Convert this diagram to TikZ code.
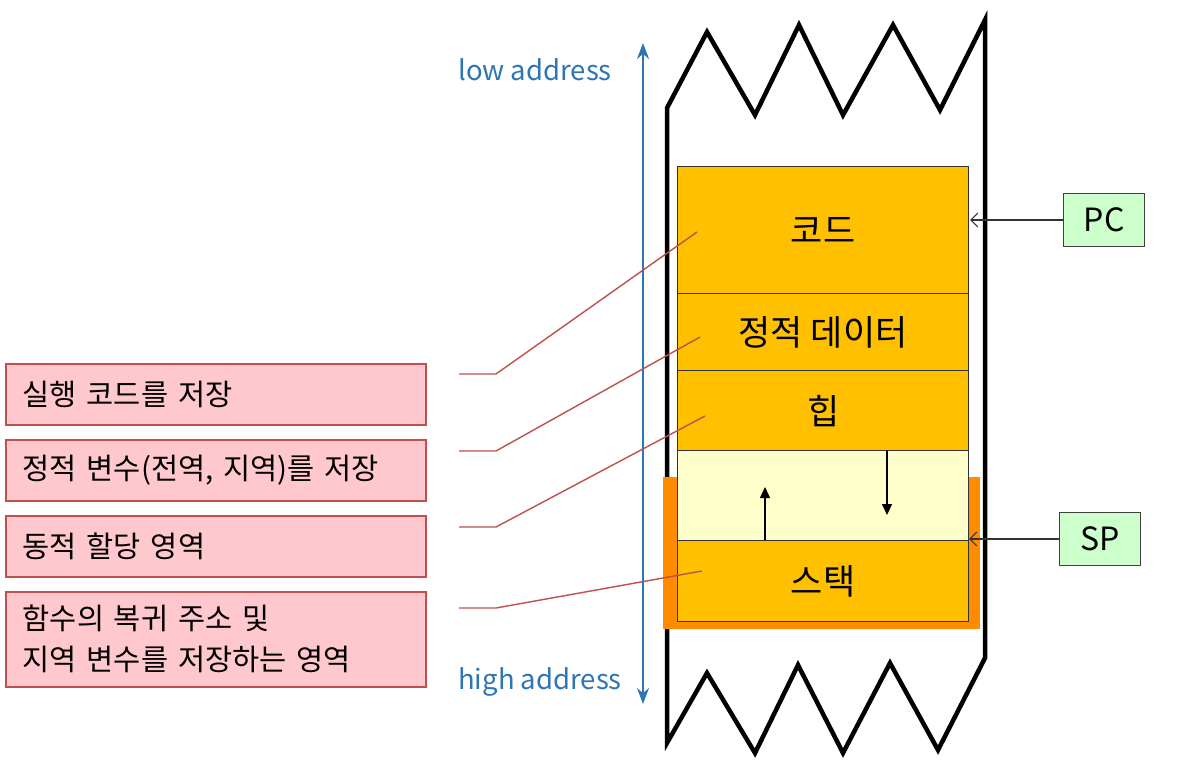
\documentclass[tikz,border=0pt]{standalone}
\usepackage{fontspec}
\setmainfont{Noto Sans CJK KR}
\usetikzlibrary{arrows.meta}
\definecolor{gold}{RGB}{255,192,0}
\definecolor{freey}{RGB}{255,255,204}
\definecolor{orng}{RGB}{255,140,0}
\definecolor{pinkf}{RGB}{255,199,206}
\definecolor{pinkd}{RGB}{192,80,77}
\definecolor{greenf}{RGB}{204,255,204}
\definecolor{addrblue}{RGB}{46,117,182}
\tikzset{
  x=1pt,y=-1pt,
  blockbox/.style={draw=black!80,line width=1.2pt,fill=gold,inner sep=0pt,minimum width=291pt,anchor=north west,font=\fontsize{35}{38}\selectfont},
  notebox/.style={draw=pinkd,line width=1.5pt,fill=pinkf,inner xsep=17pt,inner ysep=0pt,text width=386pt,align=left,anchor=north west,font=\fontsize{29.5}{41}\selectfont},
  regbox/.style={draw=black!75,line width=1.3pt,fill=greenf,inner sep=0pt,minimum width=81pt,minimum height=53pt,anchor=north west,font=\fontsize{32}{34}\selectfont},
  leader/.style={draw=pinkd,line width=1.4pt},
  regarrow/.style={draw=black!80,line width=1.2pt,-{Straight Barb[length=7pt,width=14pt]}},
  growarrow/.style={draw=black,line width=1.3pt,-{Triangle[length=11pt,width=10pt]}},
  addrtext/.style={text=addrblue,font=\fontsize{27.5}{30}\selectfont,inner sep=0pt},
}
\begin{document}
\begin{tikzpicture}
\useasboundingbox (0,0) rectangle (1190,767);
\fill[white] (0,0) rectangle (1190,767);
% frame
\draw[line width=4.5pt,line join=miter] (667,743) -- (667,108) -- (707,32) -- (755,115) -- (799,25) -- (843,115) -- (893,25) -- (940,110) -- (985,20) -- (985,658) -- (938,750) -- (890,663) -- (843,753) -- (798,665) -- (755,753) -- (707,673) -- cycle;
% stack frame
\fill[orng] (663,477) rectangle (980,629);
% blocks
\node[blockbox,minimum height=127pt] (code) at (677,166) {코드};
\node[blockbox,minimum height=77pt] (data) at (677,293) {정적 데이터};
\node[blockbox,minimum height=80pt] (heap) at (677,370) {힙};
\node[blockbox,fill=freey,minimum height=90pt] (free) at (677,450) {};
\node[blockbox,minimum height=81pt] (stack) at (677,540) {스택};
% grow arrows
\coordinate (upbase) at (765,540);
\coordinate (uptip) at (765,487);
\coordinate (dnbase) at (887,450);
\coordinate (dntip) at (887,515);
\draw[growarrow] (upbase) -- (uptip);
\draw[growarrow] (dnbase) -- (dntip);
% registers
\node[regbox] (pc) at (1063,193) {PC};
\node[regbox] (sp) at (1059,512) {SP};
\coordinate (pctip) at (970,220);
\coordinate (sptip) at (969,539);
\draw[regarrow] (pc.west |- pctip) -- (pctip);
\draw[regarrow] (sp.west |- sptip) -- (sptip);
% address arrow
\coordinate (atop) at (643,43);
\coordinate (abot) at (643,704);
\draw[addrblue,line width=1.5pt,{Stealth[length=16pt,width=12pt]}-{Stealth[length=16pt,width=12pt]}] (atop) -- (abot);
\node[addrtext] (low) at (535,70) {low address};
\node[addrtext] (high) at (540,682) {high address};
% notes
\node[notebox,minimum height=61pt] (n1) at (5,363) {실행 코드를 저장};
\node[notebox,minimum height=61pt] (n2) at (5,439) {정적 변수(전역, 지역)를 저장};
\node[notebox,minimum height=61pt] (n3) at (5,515) {동적 할당 영역};
\node[notebox,minimum height=95pt] (n4) at (5,591) {함수의 복귀 주소 및\\지역 변수를 저장하는 영역};
% leaders
\coordinate (l1a) at (459,374); \coordinate (l1b) at (496,374); \coordinate (l1c) at (697,232);
\coordinate (l2a) at (459,451); \coordinate (l2b) at (496,451); \coordinate (l2c) at (700,337);
\coordinate (l3a) at (459,527); \coordinate (l3b) at (496,527); \coordinate (l3c) at (705,416);
\coordinate (l4a) at (459,608); \coordinate (l4b) at (496,608); \coordinate (l4c) at (702,571);
\draw[leader] (l1a) -- (l1b) -- (l1c);
\draw[leader] (l2a) -- (l2b) -- (l2c);
\draw[leader] (l3a) -- (l3b) -- (l3c);
\draw[leader] (l4a) -- (l4b) -- (l4c);
\end{tikzpicture}
\end{document}
